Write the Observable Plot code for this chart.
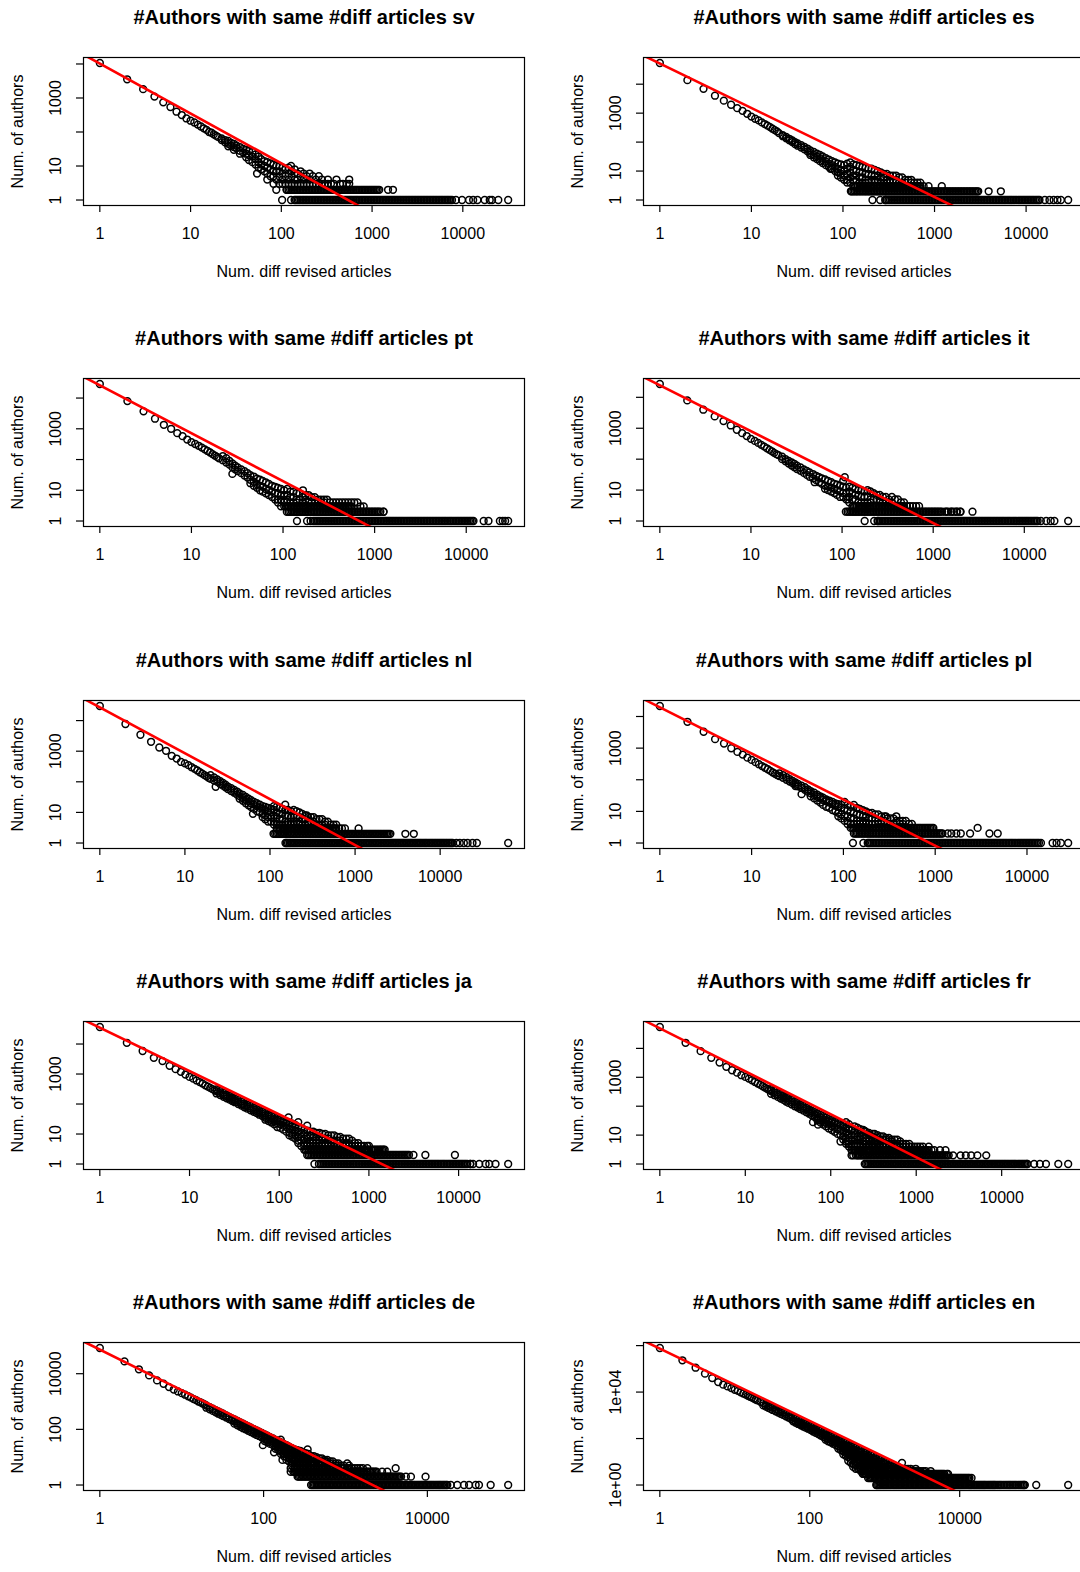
<!DOCTYPE html>
<html><head><meta charset="utf-8">
<script src="https://cdn.jsdelivr.net/npm/d3@7"></script>
<script src="https://cdn.jsdelivr.net/npm/@observablehq/plot@0.6"></script>
<style>
html,body{margin:0;padding:0;background:#fff;}
#wrap{position:relative;width:1080px;height:1572px;overflow:hidden;background:#fff;}
.panel{position:absolute;width:560px;height:321px;}
.panel svg{display:block;max-width:none !important;width:560px;height:321px;}
</style></head><body><div id="wrap"></div>
<script>
// ---- Data (x = num. diff revised articles, y = num. of authors) ----
// head: authors with 1,2,...,10 articles; mid: [x, y, y, ...]; twos/ones: x values whose count is 2 / 1; fit: fitted line end points
const svHead = [10700, 3550, 1820, 1100, 745, 540, 395, 315, 250, 215];
const svMid = [[11,190],[12,165],[13,145],[14,128],[15,115],[16,100],[17,95],[18,85],[19,78],[20,72],[22,65,58],[24,58,50],[26,55,45,38],[28,48,40],[30,45,36,30],[32,40,33],[35,36,28,23],[38,32,25],[41,30,23,18],[44,28,21,15],[48,26,19,13],[52,22,16,11],[54,6],[56,19,13,9],[60,16,11,8],[65,14,10,7],[70,13,9,6,4],[76,12,8,5],[82,11,7,5,3],[88,10,7,4],[95,10,7,5,3],[103,9,6,4,3],[111,8,5,3],[120,9,6,4,3],[128,10],[130,7,5,3],[140,8,6,4,3],[151,6,4,3],[163,7,5,3],[176,6,4,3],[190,5,3],[205,6,4,3],[222,5,3],[240,4,3],[259,5,3],[280,4,3],[302,3],[326,4,3],[352,3],[380,3],[405,4],[443,3],[478,3],[527,3],[560,4,3]];
const svTwos = [88,114,120,130,140,151,163,176,190,205,222,240,259,280,302,326,352,380,410,443,478,516,557,600,650,700,760,820,885,955,1030,1110,1200,1500,1700];
const svOnes = [102,128,140,151,163,176,190,205,222,240,259,280,302,326,352,380,410,443,478,516,557,600,650,700,760,820,885,955,1030,1110,1200,1300,1400,1510,1630,1760,1900,2050,2220,2400,2590,2800,3020,3260,3520,3800,4100,4430,4780,5160,5570,6000,6500,7000,7600,8400,9800,11700,13000,14500,17400,19800,21000,24600,31600];
const svFit = [[0.5, 28400], [100000, 0.000475]];

const esHead = [54000, 13800, 6900, 4000, 2700, 1950, 1490, 1200, 950, 760];
const esMid = [[11,640],[12,560],[13,480],[14,420],[15,370],[16,330],[17,290],[18,260],[19,235],[20,205],[22,175,160],[24,150,135],[26,130,115],[28,115,100],[30,100,85],[32,90,75],[35,78,65],[38,68,56],[41,60,48],[44,52,42,36],[48,46,36,30],[52,40,32,26],[56,36,28,22],[60,32,24,19],[65,28,21,16],[70,25,18,14],[73,12],[76,22,16,12],[82,20,14,10],[88,18,12,9,7],[95,17,11,8,6],[103,16,10,7,5],[111,18,12,8,5,4],[120,20,14,9,6,4],[130,17,11,7,5,3],[140,16,10,7,5,3],[151,15,9,6,4,3],[163,14,9,6,4,3],[176,13,8,5,4,3],[190,12,8,5,4,3],[205,12,7,5,3],[222,11,7,5,4,3],[240,10,7,5,3],[259,9,6,4,3],[280,8,6,4,3],[302,8,5,4,3],[326,7,5,4,3],[352,7,5,3],[380,7,5,4,3],[410,6,4,3],[443,6,4,3],[478,5,4,3],[516,5,3],[557,5,4,3],[600,4,3],[650,4,3],[700,4,3],[760,3],[860,3],[1200,3]];
const esTwos = [122,130,140,151,163,176,190,205,222,240,259,280,302,326,352,380,410,443,478,516,557,600,650,700,760,820,885,955,1030,1110,1200,1300,1400,1510,1630,1760,1900,2050,2220,2400,2590,2800,3000,3900,5300];
const esOnes = [210,255,290,302,326,352,380,410,443,478,516,557,600,650,700,760,820,885,955,1030,1110,1200,1300,1400,1510,1630,1760,1900,2050,2220,2400,2590,2800,3020,3260,3520,3800,4100,4430,4780,5160,5570,6000,6500,7000,7600,8200,8850,9550,10300,11100,12000,13000,14000,16000,18000,20000,22000,24000,28800];
const esFit = [[0.5, 150200], [100000, 0.00107]];

const ptHead = [28700, 7950, 3700, 2130, 1350, 1000, 720, 575, 447, 370];
const ptMid = [[11,320],[12,280],[13,245],[14,215],[15,190],[16,170],[17,150],[18,135],[19,122],[20,110],[22,130,95],[24,110,80],[26,90,68],[28,75,56,34],[30,63,48],[32,55,42],[35,48,36],[38,42,30],[41,36,26],[44,31,22,17],[48,28,19,14],[52,24,16,12],[56,22,14,10],[60,20,13,9],[65,18,11,8],[70,16,10,7],[76,14,9,6],[82,13,8,5],[88,12,8,5,4],[95,11,7,5,3],[103,10,7,4,3],[111,11,7,5,3],[120,9,6,4,3],[130,9,6,4,3],[140,8,5,4,3],[151,8,5,3],[165,10,6,4,3],[176,7,5,3],[190,7,4,3],[205,6,4,3],[222,6,4,3],[240,5,4,3],[259,5,4,3],[280,5,4,3],[302,5,3],[326,4,3],[352,4,3],[380,4,3],[410,4,3],[443,4,3],[478,4,3],[516,4,3],[557,4,3],[600,4],[650,4],[700,3],[760,3]];
const ptTwos = [110,120,130,140,151,163,176,190,205,222,240,259,280,302,326,352,380,410,443,478,516,557,600,650,700,760,820,885,955,1030,1110,1250];
const ptOnes = [142,183,200,222,240,259,280,302,326,352,380,410,443,478,516,557,600,650,700,760,820,885,955,1030,1110,1200,1300,1400,1510,1630,1760,1900,2050,2220,2400,2590,2800,3020,3260,3520,3800,4100,4430,4780,5160,5570,6000,6500,7000,7600,8200,8850,9550,10300,11100,12000,15500,17500,23300,25000,26600,28700];
const ptFit = [[0.5, 76560], [100000, 0.00042]];

const itHead = [27000, 7950, 3980, 2410, 1700, 1230, 895, 695, 560, 455];
const itMid = [[11,390],[12,335],[13,290],[14,255],[15,225],[16,200],[17,180],[18,160],[19,145],[20,135],[22,120,100],[24,100,85],[26,88,72],[28,78,62],[30,70,55],[32,62,48],[35,54,42],[38,47,36],[41,42,31],[44,37,27],[48,33,24],[50,18],[52,29,21],[56,26,18],[60,24,16],[65,22,14,11],[70,20,13,10],[76,18,12,9],[82,16,11,8],[88,15,10,7],[95,14,9,6],[103,20,13,8,6],[107,26],[111,12,8,5],[116,5],[120,13,9,6,4],[130,12,8,5,3],[140,11,7,5,3],[151,10,7,4,3],[163,10,6,4,3],[176,9,6,4,3],[190,10,6,4,3],[205,9,5,4,3],[222,8,5,3],[240,7,5,3],[259,7,5,4,3],[280,6,4,3],[302,6,4,3],[326,5,4,3],[352,6,4,3],[380,5,3],[410,5,3],[443,4,3],[478,4,3],[516,3],[557,3],[600,3],[650,3],[700,3]];
const itTwos = [110,120,130,140,151,163,176,190,205,222,240,259,280,302,326,352,380,410,443,478,516,557,600,650,700,760,820,885,955,1030,1110,1200,1400,1600,1800,2000,2700];
const itOnes = [177,225,245,259,280,302,326,352,380,410,443,478,516,557,600,650,700,760,820,885,955,1030,1110,1200,1300,1400,1510,1630,1760,1900,2050,2220,2400,2590,2800,3020,3260,3520,3800,4100,4430,4780,5160,5570,6000,6500,7000,7600,8200,8850,9550,10300,11100,12000,13000,14000,15200,17400,19500,21400,30300];
const itFit = [[0.5, 68400], [100000, 0.00092]];

const nlHead = [30000, 7730, 3450, 2030, 1320, 1030, 705, 575, 445, 400];
const nlMid = [[11,350],[12,300],[13,265],[14,235],[15,205],[16,185],[17,165],[18,150],[19,135],[20,125,165],[22,110,140],[23,69],[24,100,120],[26,85,105],[28,75,92],[30,66,80],[32,58,70],[35,50,62],[38,44,54],[41,38,48],[44,34,42,28],[48,30,37,24],[52,26,32,20],[56,23,28,17],[60,20,25,15],[63,9],[65,18,22,13],[70,16,20,11],[76,14,18,10],[82,13,16,9,7],[88,12,15,8,6],[95,11,14,7,5],[103,10,13,7,5],[111,16,12,8,5,4],[120,15,10,7,5,4,3],[130,14,9,6,4,3],[140,13,9,6,4,3],[151,18,12,8,5,4,3],[163,12,8,5,4,3],[176,11,7,5,4,3],[190,12,8,5,4,3],[205,11,7,5,3],[222,10,7,5,4,3],[240,9,6,4,3],[259,8,6,4,3],[271,8],[280,7,5,4,3],[302,7,5,3],[326,7,5,4,3],[352,6,4,3],[380,6,4,3],[410,6,4,3],[443,5,4,3],[478,5,3],[516,4,3],[557,4,3],[600,4,3],[650,3],[700,3],[760,3],[1100,3]];
const nlTwos = [110,120,130,140,151,163,176,190,205,222,240,259,280,302,326,352,380,410,443,478,516,557,600,650,700,760,820,885,955,1030,1110,1200,1300,1400,1510,1630,1760,1900,2050,2220,2400,2600,3900,4900];
const nlOnes = [152,163,176,190,205,222,240,259,280,302,326,352,380,410,443,478,516,557,600,650,700,760,820,885,955,1030,1110,1200,1300,1400,1510,1630,1760,1900,2050,2220,2400,2590,2800,3020,3260,3520,3800,4100,4430,4780,5160,5570,6000,6500,7000,7600,8200,8850,9550,10300,11100,12000,13000,14000,15500,17000,19000,21000,24000,27000,63000];
const nlFit = [[0.5, 76400], [100000, 0.00086]];

const plHead = [21500, 6800, 3300, 1920, 1400, 990, 760, 625, 500, 425];
const plMid = [[11,360],[12,310],[13,270],[14,240],[15,215],[16,190],[17,170],[18,155],[19,140],[20,130,160],[22,115,140],[24,100,120],[26,88,105],[28,78,92],[30,70,82,63],[32,62,74],[35,55,65,35],[38,48,58],[41,42,50],[44,37,44,30],[48,33,39,26],[52,29,34,22],[56,26,30,19],[60,23,27,16],[65,21,24,14],[70,19,22,13],[76,17,20,11],[82,15,18,10],[88,14,17,9,7],[95,13,16,8,6],[103,12,20,7,5],[111,11,16,7,5,4],[120,10,14,6,4,3],[130,16,9,6,4,3],[140,13,8,5,4,3],[151,12,8,5,4,3],[163,11,7,5,4,3],[176,10,7,5,4,3],[190,9,6,4,3],[205,9,6,4,3],[222,8,6,4,3],[240,8,5,4,3],[259,7,5,4,3],[280,7,5,3],[290,7],[302,6,4,3],[326,6,4,3],[352,6,4,3],[377,7,5,3],[410,5,4,3],[443,5,4,3],[478,5,3],[516,4,3],[557,4,3],[600,3],[650,3],[700,3],[760,3],[820,3],[885,3],[955,3],[2900,3]];
const plTwos = [130,140,151,163,176,190,205,222,240,259,280,302,326,352,380,410,443,478,516,557,600,650,700,760,820,885,955,1030,1110,1200,1370,1500,1700,1900,2400,3900,4800];
const plOnes = [127,165,184,190,205,222,240,259,280,302,326,352,380,410,443,478,516,557,600,650,700,760,820,885,955,1030,1110,1200,1300,1400,1510,1630,1760,1900,2050,2220,2400,2590,2800,3020,3260,3520,3800,4100,4430,4780,5160,5570,6000,6500,7000,7600,8200,8850,9550,10300,11100,12000,13000,14200,19000,21000,23400,28100];
const plFit = [[0.5, 53500], [100000, 0.001]];

const jaHead = [37000, 11000, 5850, 3480, 2700, 1870, 1450, 1180, 960, 800];
const jaMid = [[11,700],[12,610],[13,540],[14,480],[15,420],[16,380],[17,345],[18,315],[19,290],[20,265,310,225],[22,230,270,200],[24,200,235,175],[26,180,205,155],[28,160,185,140],[30,145,165,125],[32,130,150,115],[35,115,135,100],[38,100,120,88],[41,90,105,78],[44,82,95,70],[48,72,85,62],[52,65,76,55],[56,58,68,50],[60,52,62,44],[65,47,56,40],[70,42,50,35,30],[76,38,45,32,27],[82,34,41,29,24],[88,31,37,26,21],[95,28,34,23,17],[103,26,31,21,16],[111,24,28,19,14],[120,22,26,17,12],[127,36],[130,20,24,15,11,9],[140,18,22,14,10,8],[151,17,20,13,9,7],[163,25,16,12,8,6,5],[176,15,11,8,6,4],[190,14,10,7,5,4,3],[205,19,13,9,7,5,4,3],[222,12,9,6,5,4,3],[240,12,8,6,5,4,3],[259,11,8,6,5,4,3],[280,11,8,6,5,4,3],[302,10,7,5,4,3],[326,10,7,5,4,3],[352,9,7,5,4,3],[380,9,6,5,4,3],[410,9,6,5,4,3],[443,8,6,4,3],[478,8,6,4,3],[516,7,5,4,3],[557,7,5,4,3],[600,7,5,4,3],[650,6,4,3],[700,5,4,3],[760,5,4,3],[820,4,3],[885,4,3],[955,4,3],[1000,4,3],[1110,3],[1200,3],[1300,3],[1400,3],[1500,3]];
const jaTwos = [205,222,240,259,280,302,326,352,380,410,443,478,516,557,600,650,700,760,820,885,955,1030,1110,1200,1300,1400,1510,1630,1760,1900,2050,2220,2400,2590,2800,3140,4260,9100];
const jaOnes = [247,277,302,326,352,380,410,443,478,516,557,600,650,700,760,820,885,955,1030,1110,1200,1300,1400,1510,1630,1760,1900,2050,2220,2400,2590,2800,3020,3260,3520,3800,4100,4430,4780,5160,5570,6000,6500,7000,7600,8200,8850,9550,10300,11100,12000,13500,14500,17000,20000,22000,25800,35700];
const jaFit = [[0.5, 95500], [100000, 0.00207]];

const frHead = [55000, 15600, 8000, 4700, 3240, 2300, 1750, 1450, 1180, 1030];
const frMid = [[11,900],[12,790],[13,690],[14,610],[15,545],[16,490],[17,440],[18,400],[19,365],[20,335,390,270],[22,290,340,240],[24,255,300,210],[26,225,265,185],[28,200,235,165],[30,180,210,145],[32,160,190,130],[35,140,165,115],[38,120,145,100],[41,108,128,90],[44,96,114,80],[48,85,100,70],[52,75,88,62],[56,66,78,55],[60,59,70,48],[62,28],[65,52,62,42],[70,46,56,37,32],[71,23],[76,41,50,33,27],[82,36,45,29,23],[88,33,40,26,20],[95,30,36,23,17],[103,27,33,20,15],[111,25,30,18,13],[120,23,28,16,11],[130,21,26,14,10,6],[140,19,24,13,9,7],[151,28,17,12,8,6,5],[163,24,16,11,8,6,5,4],[175,15,10,7,5,4,3],[190,20,14,10,7,5,4,3],[205,18,13,9,7,5,4,3],[222,16,12,9,7,5,4,3],[240,15,11,8,6,5,4,3],[250,14],[259,13,10,8,6,5,4,3],[280,12,10,7,6,5,4,3],[310,11,9,7,5,4,3],[326,11,8,6,5,4,3],[352,10,8,6,5,4,3],[380,9,7,6,5,4,3],[410,9,7,5,4,3],[443,8,7,5,4,3],[478,8,6,5,4,3],[516,7,6,5,4,3],[557,7,5,4,3],[600,7,5,4,3],[650,6,5,4,3],[700,5,4,3],[760,5,4,3],[830,5,4,3],[885,4,3],[955,4,3],[1030,4,3],[1110,4,3],[1200,4,3],[1300,3],[1400,4,3],[1510,3],[1630,3],[1900,3],[2200,3]];
const frTwos = [175,205,222,240,259,280,302,326,352,380,410,443,478,516,557,600,650,700,760,820,885,955,1030,1110,1200,1300,1400,1510,1630,1760,1900,2050,2220,2400,2700,3300,3800,4400,5200,6600];
const frOnes = [250,259,280,302,326,352,380,410,443,478,516,557,600,650,700,760,820,885,955,1030,1110,1200,1300,1400,1510,1630,1760,1900,2050,2220,2400,2590,2800,3020,3260,3520,3800,4100,4430,4780,5160,5570,6000,6500,7000,7600,8200,8850,9550,10300,11100,12000,13000,14000,15100,16300,17600,19000,20000,24000,28000,33000,46000,60000];
const frFit = [[0.5, 138000], [100000, 0.00183]];

const deHead = [84000, 27700, 14400, 8700, 5750, 4360, 3300, 2700, 2300, 2000];
const deMid = [[11,1760],[12,1550],[13,1380],[14,1230],[15,1120],[16,1000],[17,930],[18,850],[19,790],[20,720,600],[22,630,525],[24,550,460],[26,490,410],[28,440,365],[30,400,330],[32,365,300],[35,315,265],[38,280,235],[41,250,210],[44,230,190,160],[48,200,165,140],[52,178,148,123],[56,160,132,110],[60,145,120,100],[65,129,107,89],[70,115,95,80],[76,102,85,71],[82,91,76,63],[88,83,69,58],[95,74,62,51],[98,27],[103,66,55,46,38],[111,59,49,41,34],[120,52,44,36,30],[130,47,39,32,27],[134,15],[140,42,35,29,24,20],[151,38,32,26,22,18],[162,43],[163,34,28,23,19,16,13],[170,8],[176,30,25,21,17,14,11],[190,27,22,19,15,13,10,8],[205,24,20,17,14,11,9,7],[214,4,3],[222,21,18,15,12,9,8,6,5],[240,19,16,13,10,8,7,5,4,3],[259,18,15,12,9,8,6,5,4,3],[280,17,14,11,9,7,6,5,4,3],[302,15,13,10,8,6,5,4,3],[326,14,11,9,7,6,5,4,3],[345,19],[352,13,10,8,6,5,4,3],[380,11,9,7,6,5,4,3],[410,11,9,7,6,5,4,3],[443,10,8,7,5,4,3],[478,9,7,6,5,4,3],[516,9,7,6,5,4,3],[557,8,7,5,4,3],[600,8,6,5,4,3],[650,7,6,5,4,3],[700,7,5,4,3],[760,6,5,4,3],[820,6,5,4,3],[885,5,4,3],[955,5,4,3],[1050,6,4,3],[1110,5,4,3],[1200,4,3],[1300,4,3],[1400,4,3],[1510,4,3],[1630,4,3],[1850,4,3],[2050,3],[2220,3],[2400,3],[2800,3],[3240,3],[4100,4]];
const deTwos = [260,280,302,326,352,380,410,443,478,516,557,600,650,700,760,820,885,955,1030,1110,1200,1300,1400,1510,1630,1760,1900,2050,2220,2400,2590,2800,3020,3260,3520,3800,4100,4430,4780,5470,6300,9500];
const deOnes = [380,410,443,478,516,557,600,650,700,760,820,885,955,1030,1110,1200,1300,1400,1510,1630,1760,1900,2050,2220,2400,2590,2800,3020,3260,3520,3800,4100,4430,4780,5160,5570,6000,6500,7000,7600,8200,8850,9550,10300,11100,12000,13000,14000,15100,16300,17500,19300,23200,28000,32300,38900,42700,59300,97000];
const deFit = [[0.5, 203000], [100000, 0.00365]];

const enHead = [790000, 233000, 112000, 62000, 40000, 27000, 20800, 17500, 14800, 12600];
const enMid = [[11,11300],[12,9800],[13,8700],[14,7800],[15,6950],[16,6300],[17,5750],[18,5250],[19,4800],[20,4450],[22,3830],[24,3360,2670],[26,2960,2350],[28,2640,2090],[30,2370,1880],[32,2140,1700],[35,1860,1480],[38,1640,1300],[41,1460,1160],[44,1310,1040],[48,1140,905],[52,1010,800],[56,900,710],[60,805,640,550],[65,710,560,480],[70,630,500,425],[76,555,440,370],[82,490,390,330],[88,440,350,295],[95,395,315,265],[103,345,275,230],[111,310,245,200],[120,275,220,178],[130,240,190,155],[140,215,170,135],[151,190,150,120],[163,170,135,107,89],[176,150,120,95,76],[190,135,107,85,68],[205,120,95,76,60],[222,105,83,66,52],[240,93,74,59,47,37],[259,83,66,52,42,32],[280,73,58,46,36,28,21],[302,65,51,40,32,24,18],[326,58,46,35,28,21,16,11],[352,51,40,32,24,18,13,9],[380,45,35,28,21,16,12,8,6],[410,40,32,24,18,14,10,7,5],[443,36,28,21,16,12,9,6,5],[478,32,25,19,14,10,7,5,4],[510,3],[516,28,22,17,13,9,7,5,4,3],[557,25,20,15,11,8,6,5,3],[600,22,18,13,10,7,5,4,3],[650,20,15,11,8,6,5,3],[700,18,14,10,8,6,4,3],[760,16,12,9,7,5,4,3],[820,14,11,8,6,5,3],[885,13,10,7,5,4,3],[955,11,9,6,5,4,3],[1030,10,8,6,4,3],[1110,9,7,5,4,3],[1200,8,6,5,4,3],[1300,7,6,4,3],[1400,6,5,4,3],[1510,6,5,4,3],[1630,5,4,3],[1700,9],[1760,5,4,3],[1900,5,4,3],[2050,5,4,3],[2220,5,4,3],[2400,4,3],[2590,5,4,3],[2800,4,3],[3020,4,3],[3260,4,3],[3520,4,3],[3800,3],[4100,4,3],[4430,3],[4780,3],[5160,3],[5570,3],[6000,3],[7000,3]];
const enTwos = [600,650,700,760,820,885,955,1030,1110,1200,1300,1400,1510,1630,1760,1900,2050,2220,2400,2590,2800,3020,3260,3520,3800,4100,4430,4780,5160,5570,6000,6500,7000,7600,8200,8850,9550,10300,11100,12000,13000,14400];
const enOnes = [770,820,885,955,1030,1110,1200,1300,1400,1510,1630,1760,1900,2050,2220,2400,2590,2800,3020,3260,3520,3800,4100,4430,4780,5160,5570,6000,6500,7000,7600,8200,8850,9550,10300,11100,12000,13000,14000,15100,16300,17600,19000,20500,22000,24000,26000,28000,30000,33000,36000,40000,44000,48000,53000,58000,64000,70000,74000,105000,280000];
const enFit = [[0.5, 2180000], [100000, 0.0123]];

// Extra x positions inside the solid (continuous) stretches of the count-1, count-2 and count-3 rows
const bandFill = [107,115,125,135,145,157,170,183,197,213,231,249,269,291,314,339,366,395,426,460,497,536,578,625,675,730,790,852,920,992,1070,1155,1250,1350,1455,1570,1695,1830,1975,2135,2310,2495,2695,2910,3140,3390,3660,3950,4265,4605,4970,5365,5785,6250,6750,7300,7900,8525,9200,9925,10700,11550,12500,13500,14500,15700,16950,18300,19750,21250,23000,25000,27000,29000,31500,34500,38000,42000,46000,50500,55500,61000,67000,72000];
// solid stretches: [count, from x, to x]
const svSolid = [[1, 140, 7600], [2, 114, 1200]];
const esSolid = [[1, 290, 14000], [2, 122, 3000], [3, 130, 700]];
const ptSolid = [[1, 200, 12000], [2, 110, 1250], [3, 95, 557]];
const itSolid = [[1, 245, 14000], [2, 110, 2000], [3, 130, 478]];
const nlSolid = [[1, 152, 14000], [2, 110, 2600], [3, 120, 600]];
const plSolid = [[1, 184, 14200], [2, 130, 1200], [3, 120, 955]];
const jaSolid = [[1, 277, 13500], [2, 205, 2800], [3, 190, 1500]];
const frSolid = [[1, 250, 20000], [2, 175, 2400], [3, 175, 1400]];
const deSolid = [[1, 380, 17500], [2, 260, 4780], [3, 214, 2400]];
const enSolid = [[1, 770, 74000], [2, 600, 14400], [3, 516, 7000]];

// ---- Axis ticks / labels ----
const decTicks = [1, 10, 100, 1000, 10000];
const wideTicks = [1, 100, 10000];
const yDecLabels = [[1, "1"], [10, "10"], [1000, "1000"]];
const yDeLabels = [[1, "1"], [100, "100"], [10000, "10000"]];
const enYTicks = [1, 100, 10000, 1000000];
const enYLabels = [[1, "1e+00"], [10000, "1e+04"]];

const titlePrefix = "#Authors with same #diff articles ";
const xTitle = "Num. diff revised articles";
const yTitle = "Num. of authors";

const panels = [
  {lang: "sv", head: svHead, mid: svMid, twos: svTwos, ones: svOnes, solid: svSolid, fit: svFit, xt: decTicks, yt: decTicks, yl: yDecLabels},
  {lang: "es", head: esHead, mid: esMid, twos: esTwos, ones: esOnes, solid: esSolid, fit: esFit, xt: decTicks, yt: decTicks, yl: yDecLabels},
  {lang: "pt", head: ptHead, mid: ptMid, twos: ptTwos, ones: ptOnes, solid: ptSolid, fit: ptFit, xt: decTicks, yt: decTicks, yl: yDecLabels},
  {lang: "it", head: itHead, mid: itMid, twos: itTwos, ones: itOnes, solid: itSolid, fit: itFit, xt: decTicks, yt: decTicks, yl: yDecLabels},
  {lang: "nl", head: nlHead, mid: nlMid, twos: nlTwos, ones: nlOnes, solid: nlSolid, fit: nlFit, xt: decTicks, yt: decTicks, yl: yDecLabels},
  {lang: "pl", head: plHead, mid: plMid, twos: plTwos, ones: plOnes, solid: plSolid, fit: plFit, xt: decTicks, yt: decTicks, yl: yDecLabels},
  {lang: "ja", head: jaHead, mid: jaMid, twos: jaTwos, ones: jaOnes, solid: jaSolid, fit: jaFit, xt: decTicks, yt: decTicks, yl: yDecLabels},
  {lang: "fr", head: frHead, mid: frMid, twos: frTwos, ones: frOnes, solid: frSolid, fit: frFit, xt: decTicks, yt: decTicks, yl: yDecLabels},
  {lang: "de", head: deHead, mid: deMid, twos: deTwos, ones: deOnes, solid: deSolid, fit: deFit, xt: wideTicks, yt: wideTicks, yl: yDeLabels},
  {lang: "en", head: enHead, mid: enMid, twos: enTwos, ones: enOnes, solid: enSolid, fit: enFit, xt: wideTicks, yt: enYTicks, yl: enYLabels}
];

const FONT = "'Liberation Sans', Arial, Helvetica, sans-serif";
const wrap = document.getElementById("wrap");

panels.forEach((p, i) => {
  const row = Math.floor(i / 2), col = i % 2;
  const pts = [
    ...p.head.map((y, k) => ({x: k + 1, y})),
    ...p.mid.flatMap(([x, ...ys]) => ys.map(y => ({x, y}))),
    ...p.twos.map(x => ({x, y: 2})),
    ...p.ones.map(x => ({x, y: 1})),
    ...p.solid.flatMap(([y, lo, hi]) => bandFill.filter(x => x >= lo && x <= hi).map(x => ({x, y})))
  ];
  // R-style 4% padding of the log range
  const lx = Math.log10(d3.max(pts, d => d.x));
  const ly = Math.log10(d3.max(pts, d => d.y));
  const xd = [Math.pow(10, -0.04 * lx), Math.pow(10, 1.04 * lx)];
  const yd = [Math.pow(10, -0.04 * ly), Math.pow(10, 1.04 * ly)];

  const chart = Plot.plot({
    width: 560, height: 321,
    marginLeft: 83, marginRight: 36, marginTop: 57, marginBottom: 116,
    style: {fontFamily: FONT, fontSize: "16px", background: "transparent", color: "black", maxWidth: "none"},
    x: {type: "log", domain: xd},
    y: {type: "log", domain: yd},
    marks: [
      Plot.dot(pts, {x: "x", y: "y", r: 3.4, stroke: "black", strokeWidth: 1.5, fill: "none"}),
      Plot.line(p.fit, {x: d => d[0], y: d => d[1], stroke: "#ff0000", strokeWidth: 2.6, clip: true}),
      Plot.frame({stroke: "black", strokeWidth: 1.2}),
      Plot.axisX(p.xt, {tickSize: 7, tickFormat: () => "", label: null, stroke: "black", strokeWidth: 1.2}),
      Plot.axisY(p.yt, {tickSize: 7, tickFormat: () => "", label: null, stroke: "black", strokeWidth: 1.2}),
      Plot.text(p.xt, {x: d => d, text: d => String(d), frameAnchor: "bottom", dy: 33, lineAnchor: "bottom", textAnchor: "middle", fontSize: 16, fill: "black"}),
      Plot.text(p.yl, {y: d => d[0], text: d => d[1], frameAnchor: "left", dx: -23, rotate: -90, textAnchor: "middle", lineAnchor: "bottom", fontSize: 16, fill: "black"}),
      Plot.text([xTitle], {text: d => d, frameAnchor: "bottom", dy: 71, lineAnchor: "bottom", textAnchor: "middle", fontSize: 16, fill: "black"}),
      Plot.text([yTitle], {text: d => d, frameAnchor: "left", dx: -61, rotate: -90, textAnchor: "middle", lineAnchor: "bottom", fontSize: 16, fill: "black"}),
      Plot.text([titlePrefix + p.lang], {text: d => d, frameAnchor: "top", dy: -34, lineAnchor: "bottom", textAnchor: "middle", fontSize: 20, fontWeight: "bold", fill: "black"})
    ]
  });
  const div = document.createElement("div");
  div.className = "panel";
  div.style.left = (col * 559.5) + "px";
  div.style.top = (row * 321.25) + "px";
  div.appendChild(chart);
  wrap.appendChild(div);
});
</script>
</body></html>
